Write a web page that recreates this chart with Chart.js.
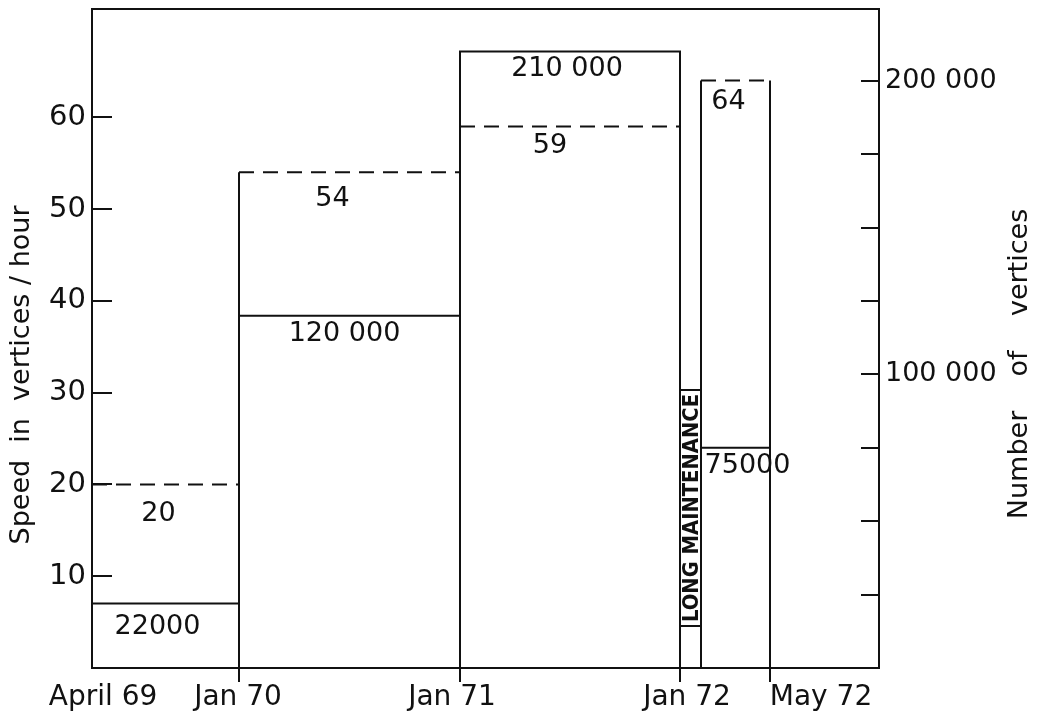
<!DOCTYPE html>
<html>
<head>
<meta charset="utf-8">
<script src="https://cdn.jsdelivr.net/npm/chart.js@4"></script>
<style>
  body { margin: 0; background: #fff; }
  #wrap { width: 1041px; height: 720px; }
</style>
</head>
<body>
<div id="wrap"><canvas id="chart"></canvas></div>
<script>
// Periods along the drawn time axis (axis units, the axis is not uniform in months)
const dateTicks = ['April 69', 'Jan 70', 'Jan 71', 'Jan 72', 'May 72'];
const datePos = [0, 147, 368, 588, 678];
const xMax = 787;

const periodStart = [0, 147, 368, 609];
const periodEnd = [147, 368, 588, 678];
const speed = [20, 54, 59, 64];                 // vertices / hour (dashed)
const vertices = [22000, 120000, 210000, 75000]; // number of vertices (solid)
const speedLabels = ['20', '54', '59', '64'];
const vertexLabels = ['22000', '120 000', '210 000', '75000'];

// long maintenance gap between Jan 72 and the last period
const maintStart = 588;
const maintEnd = 609;
const maintText = 'LONG MAINTENANCE';

const speedTicks = [10, 20, 30, 40, 50, 60];
const vertexTicks = [25000, 50000, 75000, 100000, 125000, 150000, 175000, 200000];
const vertexTickLabels = { 100000: '100 000', 200000: '200 000' };

const ink = '#111';
const fam = '"DejaVu Sans", "Liberation Sans", sans-serif';
const dash = [15, 9];

// label nudges (px) so the numbers sit where they were lettered
const speedLabelDx = [-7, -17, -20, -7];
const speedLabelDy = [30, 27, 20, 21];
const vertexLabelDx = [-8, -5, -3, 12];
const vertexLabelDy = [24, 18, 17, 18];
const dateLabelDx = [11, -1, -8, 7, 51];

function outline(starts, ends, values) {
    const pts = [];
    starts.forEach((x0, i) => {
        const x1 = ends[i];
        const v = values[i];
        pts.push({x: x0, y: 0}, {x: x0, y: v}, {x: x1, y: v}, {x: x1, y: 0}, {x: x1, y: null});
    });
    return pts;
}

const extras = {
    id: 'extras',
    afterDatasetsDraw(chart) {
        const {ctx, chartArea: a, scales} = chart;
        const x = scales.x, y = scales.y, y2 = scales.y2;
        ctx.save();
        ctx.strokeStyle = ink;
        ctx.fillStyle = ink;
        ctx.lineWidth = 2;
        ctx.setLineDash([]);

        // top of the frame
        ctx.beginPath();
        ctx.moveTo(a.left, a.top);
        ctx.lineTo(a.right, a.top);
        ctx.stroke();

        // inward tick marks
        ctx.beginPath();
        y.ticks.forEach(t => {
            const py = Math.round(y.getPixelForValue(t.value));
            ctx.moveTo(a.left, py);
            ctx.lineTo(a.left + 20, py);
        });
        y2.ticks.forEach(t => {
            const py = Math.round(y2.getPixelForValue(t.value));
            ctx.moveTo(a.right - 18, py);
            ctx.lineTo(a.right, py);
        });
        ctx.stroke();

        // long maintenance box
        const mx0 = x.getPixelForValue(maintStart);
        const mx1 = x.getPixelForValue(maintEnd);
        const boxTop = 390, boxLen = 236;
        ctx.strokeRect(mx0, boxTop, mx1 - mx0, boxLen);
        ctx.save();
        ctx.translate((mx0 + mx1) / 2 + 1, boxTop + boxLen / 2);
        ctx.rotate(-Math.PI / 2);
        ctx.font = 'bold 21px ' + fam;
        const w = ctx.measureText(maintText).width;
        ctx.scale((boxLen - 8) / w, 1);
        ctx.textAlign = 'center';
        ctx.textBaseline = 'middle';
        ctx.fillText(maintText, 0, 1);
        ctx.restore();

        // value labels
        ctx.font = '27px ' + fam;
        ctx.textAlign = 'center';
        ctx.textBaseline = 'middle';
        periodStart.forEach((s, i) => {
            const cx = x.getPixelForValue((s + periodEnd[i]) / 2);
            ctx.fillText(speedLabels[i], cx + speedLabelDx[i], y.getPixelForValue(speed[i]) + speedLabelDy[i]);
            ctx.fillText(vertexLabels[i], cx + vertexLabelDx[i], y2.getPixelForValue(vertices[i]) + vertexLabelDy[i]);
        });

        // date labels
        ctx.font = '28px ' + fam;
        dateTicks.forEach((lab, i) => {
            ctx.fillText(lab, x.getPixelForValue(datePos[i]) + dateLabelDx[i], a.bottom + 30);
        });

        // axis titles
        ctx.font = '27px ' + fam;
        ctx.save();
        ctx.translate(22, 375);
        ctx.rotate(-Math.PI / 2);
        ctx.fillText('Speed  in  vertices / hour', 0, 0);
        ctx.restore();
        ctx.save();
        ctx.translate(1020, 364);
        ctx.rotate(-Math.PI / 2);
        ctx.fillText('Number    of    vertices', 0, 0);
        ctx.restore();

        ctx.restore();
    }
};

new Chart(document.getElementById('chart'), {
    type: 'line',
    data: {
        datasets: [
            {
                label: 'Speed',
                data: outline(periodStart, periodEnd, speed),
                yAxisID: 'y',
                borderColor: ink,
                borderWidth: 2,
                pointRadius: 0,
                spanGaps: false,
                segment: {
                    borderDash: ctx => (ctx.p0.parsed.y === ctx.p1.parsed.y && ctx.p0.parsed.y !== 0) ? dash : []
                }
            },
            {
                label: 'Vertices',
                data: outline(periodStart, periodEnd, vertices),
                yAxisID: 'y2',
                borderColor: ink,
                borderWidth: 2,
                pointRadius: 0,
                spanGaps: false
            }
        ]
    },
    options: {
        responsive: true,
        maintainAspectRatio: false,
        animation: false,
        layout: { padding: { top: 9, left: 0, right: 0, bottom: 0 } },
        plugins: { legend: { display: false }, tooltip: { enabled: false } },
        scales: {
            x: {
                type: 'linear',
                min: 0,
                max: xMax,
                afterBuildTicks: s => { s.ticks = datePos.map(v => ({value: v})); },
                afterFit: s => { s.height = 52; s.paddingLeft = 0; s.paddingRight = 0; },
                grid: {
                    drawOnChartArea: false,
                    drawTicks: true,
                    tickLength: 14,
                    lineWidth: 2,
                    color: c => c.index === 0 ? 'rgba(0,0,0,0)' : ink
                },
                border: { display: true, color: ink, width: 2 },
                ticks: { display: false }
            },
            y: {
                position: 'left',
                min: 0,
                max: 71.8,
                afterBuildTicks: s => { s.ticks = speedTicks.map(v => ({value: v})); },
                afterFit: s => { s.width = 92; s.paddingTop = 0; s.paddingBottom = 0; },
                grid: { display: false, drawTicks: false },
                border: { display: true, color: ink, width: 2 },
                ticks: { padding: 6, color: ink, font: { family: fam, size: 29 } }
            },
            y2: {
                position: 'right',
                min: 0,
                max: 224500,
                afterBuildTicks: s => { s.ticks = vertexTicks.map(v => ({value: v})); },
                afterFit: s => { s.width = 162; s.paddingTop = 0; s.paddingBottom = 0; },
                grid: { display: false, drawTicks: false },
                border: { display: true, color: ink, width: 2 },
                ticks: {
                    padding: 6,
                    color: ink,
                    font: { family: fam, size: 27 },
                    callback: v => vertexTickLabels[v] || ''
                }
            }
        }
    },
    plugins: [extras]
});
</script>
</body>
</html>
